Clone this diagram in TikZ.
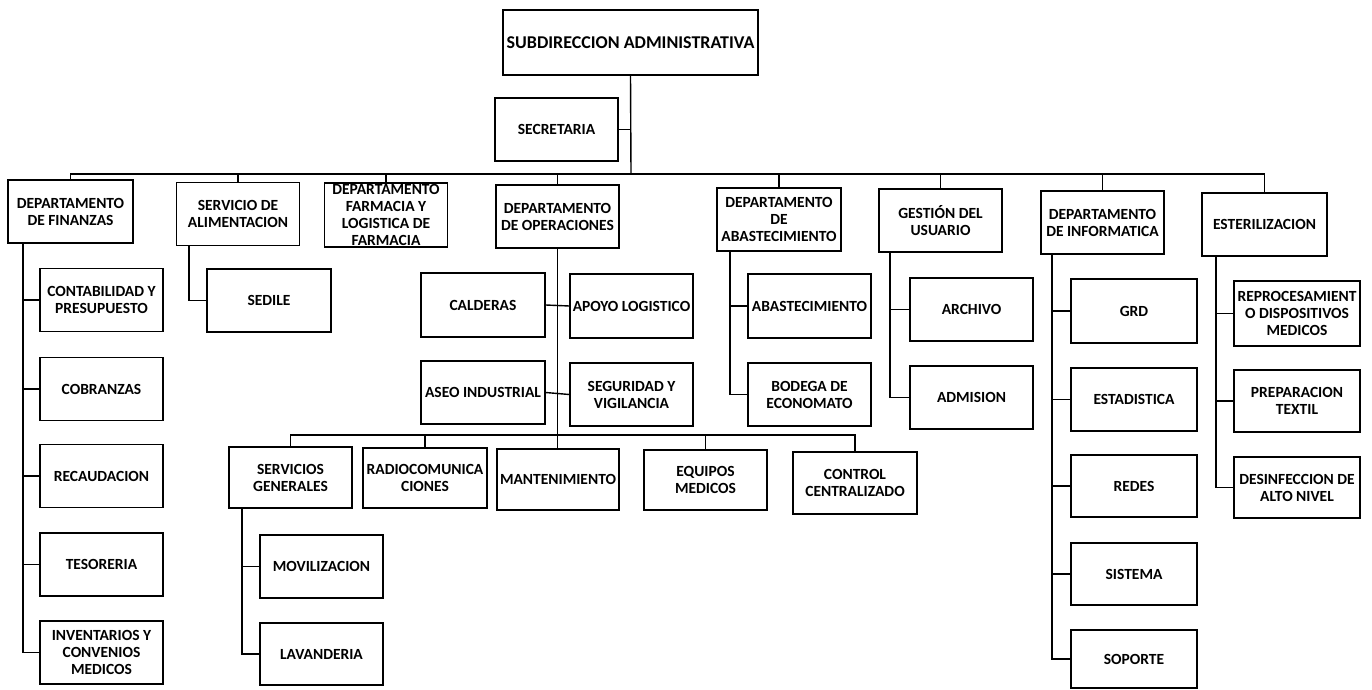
\documentclass[tikz,border=0pt]{standalone}
\usepackage{fontspec}
\setmainfont{Carlito}
\begin{document}
\begin{tikzpicture}[x=1pt,y=-1pt,
    unit/.style={draw, line width=1.4pt, minimum width=123pt, minimum height=63pt,
        inner sep=1pt, align=center, font=\bfseries\fontsize{15.5}{17}\selectfont},
    link/.style={line width=1.4pt}]
    \useasboundingbox (0,0) rectangle (1372,690);

    % Top
    \node[unit, minimum width=255pt, minimum height=65pt,
        font=\bfseries\fontsize{18}{20}\selectfont] (sub) at (630.5,42.5) {SUBDIRECCION ADMINISTRATIVA};
    \node[unit] (sec) at (556.5,129.5) {SECRETARIA};
    \coordinate (bus) at (631,174);
    \draw[link] (sub.south) -- (bus);
    \draw[link] (sec.east) -- (sec.east -| bus);

    % Departments
    \node[unit, minimum width=125pt] (fin) at (70.5,211.5) {DEPARTAMENTO\\DE FINANZAS};
    \node[unit] (ali) at (238,214) {SERVICIO DE\\ALIMENTACION};
    \node[unit, minimum height=64pt, inner sep=0pt] (far) at (386,215) {DEPARTAMENTO\\FARMACIA Y\\LOGISTICA DE\\FARMACIA};
    \node[unit] (ope) at (557.5,216.5) {DEPARTAMENTO\\DE OPERACIONES};
    \node[unit, minimum width=124pt] (aba) at (779,219.5) {DEPARTAMENTO\\DE\\ABASTECIMIENTO};
    \node[unit] (ges) at (940.5,220.5) {GESTIÓN DEL\\USUARIO};
    \node[unit] (inf) at (1102.5,222.5) {DEPARTAMENTO\\DE INFORMATICA};
    \node[unit, minimum width=125pt] (est) at (1264.5,224.5) {ESTERILIZACION};

    \foreach \n in {fin,ali,far,ope,aba,ges,inf,est}
        \draw[link] (bus) -| (\n.north);

    % Finanzas
    \coordinate (finx) at (23,0);
    \node[unit] (con) at (101.5,300) {CONTABILIDAD Y\\PRESUPUESTO};
    \node[unit] (cob) at (101.5,389) {COBRANZAS};
    \node[unit] (rec) at (101.5,476) {RECAUDACION};
    \node[unit] (tes) at (101.5,564.5) {TESORERIA};
    \node[unit] (inv) at (101.5,652.5) {INVENTARIOS Y\\CONVENIOS\\MEDICOS};
    \foreach \n in {con,cob,rec,tes,inv}
        \draw[link] (fin.south -| finx) |- (\n.west);

    % Alimentacion
    \coordinate (alix) at (189,0);
    \node[unit, minimum width=124pt] (sed) at (269,300.5) {SEDILE};
    \draw[link] (ali.south -| alix) |- (sed.west);

    % Operaciones
    \node[unit, minimum width=124pt, minimum height=64pt] (cal) at (483,305) {CALDERAS};
    \node[unit, minimum height=64pt] (apo) at (631.5,306) {APOYO LOGISTICO};
    \node[unit, minimum width=124pt] (ase) at (483,392.5) {ASEO INDUSTRIAL};
    \node[unit] (seg) at (631.5,394.5) {SEGURIDAD Y\\VIGILANCIA};
    \draw[link] (cal.east) -- (apo.west);
    \draw[link] (ase.east) -- (seg.west);

    \node[unit, minimum height=61pt] (sgen) at (290.5,477.5) {SERVICIOS\\GENERALES};
    \node[unit, minimum width=124pt, minimum height=60pt] (rad) at (425,478) {RADIOCOMUNICA\\CIONES};
    \node[unit, minimum width=122pt, minimum height=61pt] (man) at (558,479.5) {MANTENIMIENTO};
    \node[unit, minimum height=60pt] (equ) at (705.5,480) {EQUIPOS\\MEDICOS};
    \node[unit, minimum width=124pt, minimum height=62pt] (ctr) at (855,483) {CONTROL\\CENTRALIZADO};
    \coordinate (opebus) at (557,435);
    \draw[link] (ope.south) -- (man.north -| ope.south);
    \foreach \n in {sgen,rad,equ,ctr}
        \draw[link] (opebus) -| (\n.north);

    % Servicios generales
    \coordinate (sgenx) at (242,0);
    \node[unit] (mov) at (321.5,566.5) {MOVILIZACION};
    \node[unit, minimum height=62pt] (lav) at (321.5,654) {LAVANDERIA};
    \foreach \n in {mov,lav}
        \draw[link] (sgen.south -| sgenx) |- (\n.west);

    % Abastecimiento
    \coordinate (abax) at (730,0);
    \node[unit, minimum height=64pt] (abs) at (809.5,306) {ABASTECIMIENTO};
    \node[unit] (bod) at (809.5,394.5) {BODEGA DE\\ECONOMATO};
    \foreach \n in {abs,bod}
        \draw[link] (aba.south -| abax) |- (\n.west);

    % Gestion del usuario
    \coordinate (gesx) at (890,0);
    \node[unit] (arc) at (971.5,309.5) {ARCHIVO};
    \node[unit] (adm) at (971.5,397.5) {ADMISION};
    \foreach \n in {arc,adm}
        \draw[link] (ges.south -| gesx) |- (\n.west);

    % Informatica
    \coordinate (infx) at (1052,0);
    \node[unit, minimum width=126pt, minimum height=64pt] (grd) at (1134,311) {GRD};
    \node[unit, minimum width=126pt] (sta) at (1134,399.5) {ESTADISTICA};
    \node[unit, minimum width=126pt, minimum height=62pt] (red) at (1134,486) {REDES};
    \node[unit, minimum width=126pt, minimum height=62pt] (sis) at (1134,574) {SISTEMA};
    \node[unit, minimum width=126pt, minimum height=58pt] (sop) at (1134,659) {SOPORTE};
    \foreach \n in {grd,sta,red,sis,sop}
        \draw[link] (inf.south -| infx) |- (\n.west);

    % Esterilizacion
    \coordinate (estx) at (1216,0);
    \node[unit, minimum width=126pt, minimum height=65pt] (rep) at (1297,313.5) {REPROCESAMIENT\\O DISPOSITIVOS\\MEDICOS};
    \node[unit, minimum width=126pt, minimum height=62pt] (pre) at (1297,401) {PREPARACION\\TEXTIL};
    \node[unit, minimum width=126pt, minimum height=61pt] (des) at (1297,487.5) {DESINFECCION DE\\ALTO NIVEL};
    \foreach \n in {rep,pre,des}
        \draw[link] (est.south -| estx) |- (\n.west);
\end{tikzpicture}
\end{document}
